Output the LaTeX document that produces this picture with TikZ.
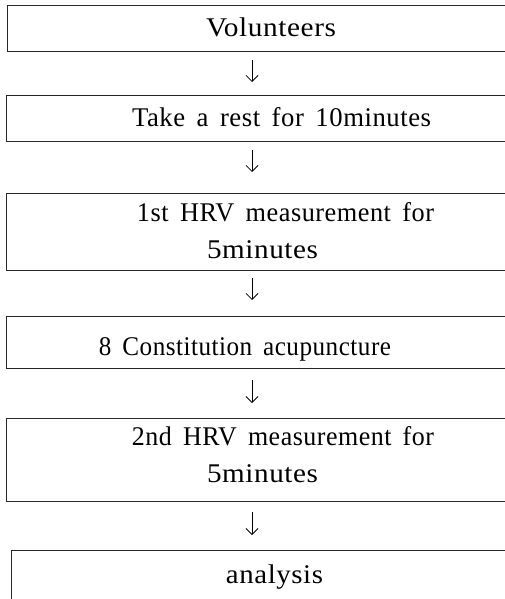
\documentclass[tikz,border=0pt]{standalone}
\usepackage{fontspec}
\usepackage{graphicx}
\setmainfont{Liberation Serif}[LetterSpace=2,WordSpace=1.6]
\usetikzlibrary{arrows.meta}
\newcommand{\fitto}[2]{\resizebox{#1}{\height}{#2}}
\begin{document}
\begin{tikzpicture}[x=1pt,y=1pt,
  stage/.style={draw=none, anchor=north west, inner sep=0pt, minimum width=490pt},
  edge/.style={draw=black!85, line width=0.9pt},
  lbl/.style={anchor=base, inner sep=0pt, font=\fontsize{27}{32}\selectfont},
  flow/.style={line width=0.8pt, -{Straight Barb[length=6pt,width=12pt,line width=0.8pt]}}]
\useasboundingbox (0,0) rectangle (504,-599);
\coordinate (rx) at (504.5,0);
\coordinate (by) at (0,-600);
% boxes (their right sides lie outside the picture)
\node[stage, minimum height=46pt] (b1) at (7,-5) {};
\node[stage, minimum height=46pt] (b2) at (6,-95) {};
\node[stage, minimum height=77pt] (b3) at (6,-193) {};
\node[stage, minimum height=52pt] (b4) at (6,-316) {};
\node[stage, minimum height=83pt] (b5) at (6,-418) {};
\node[stage, minimum height=40pt] (b6) at (11,-550) {};
\foreach \b in {b1,b2,b3,b4,b5}
  \draw[edge] (\b.north west -| rx) -- (\b.north west) -- (\b.south west) -- (\b.south west -| rx);
\draw[edge] (b6.north west -| rx) -- (b6.north west) -- (b6.north west |- by);
% texts
\node[lbl] (t1) at (271,-37) {\fitto{130pt}{Volunteers}};
\node[lbl] (t2) at (281.5,-126) {\fitto{299pt}{Take a rest for 10minutes}};
\node[lbl] (t3a) at (285.5,-221) {\fitto{297pt}{1st HRV measurement for}};
\node[lbl] (t3b) at (262.5,-258) {\fitto{111pt}{5minutes}};
\node[lbl] (t4) at (245,-355) {\fitto{292pt}{8 Constitution acupuncture}};
\node[lbl] (t5a) at (283,-445) {\fitto{302pt}{2nd HRV measurement for}};
\node[lbl] (t5b) at (262.5,-482) {\fitto{111pt}{5minutes}};
\node[lbl] (t6) at (274.5,-583) {\fitto{97pt}{analysis}};
% arrows
\coordinate (ax) at (252,0);
\draw[flow, shorten <=9pt, shorten >=13pt] (b1.south -| ax) -- (b2.north -| ax);
\draw[flow, shorten <=9pt, shorten >=21pt] (b2.south -| ax) -- (b3.north -| ax);
\draw[flow, shorten <=8pt, shorten >=16pt] (b3.south -| ax) -- (b4.north -| ax);
\draw[flow, shorten <=12pt, shorten >=15pt] (b4.south -| ax) -- (b5.north -| ax);
\draw[flow, shorten <=11pt, shorten >=15pt] (b5.south -| ax) -- (b6.north -| ax);
\end{tikzpicture}
\end{document}
